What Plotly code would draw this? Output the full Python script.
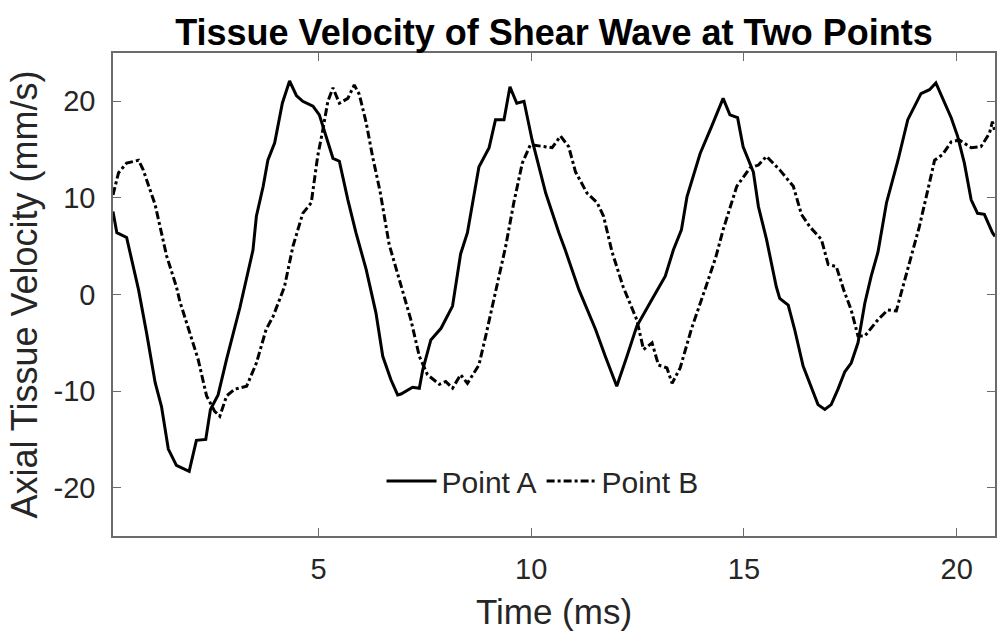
import plotly.graph_objects as go

# Point A (solid)
t_a = [0.17, 0.26, 0.49, 0.77, 0.96, 1.16, 1.31, 1.47, 1.66, 1.96, 2.13, 2.35, 2.46, 2.64, 2.84,
       3.15, 3.46, 3.54, 3.70, 3.81, 3.97, 4.15, 4.32, 4.48, 4.63, 4.87, 5.02, 5.18, 5.34, 5.49,
       5.69, 5.88, 6.04, 6.12, 6.35, 6.51, 6.70, 6.86, 6.94, 7.21, 7.37, 7.45, 7.64, 7.88, 8.15,
       8.34, 8.50, 8.77, 9.01, 9.16, 9.36, 9.50, 9.66, 9.83, 10.02, 10.34, 10.65, 10.80, 11.12,
       11.51, 11.74, 12.01, 12.25, 12.48, 12.84, 13.15, 13.34, 13.53, 13.66, 13.97, 14.24, 14.51,
       14.67, 14.85, 14.98, 15.14, 15.22, 15.34, 15.53, 15.76, 15.84, 16.04, 16.19, 16.39, 16.59,
       16.74, 16.90, 17.05, 17.21, 17.37, 17.52, 17.68, 17.84, 17.99, 18.15, 18.35, 18.62, 18.85,
       19.16, 19.36, 19.51, 19.71, 19.87, 20.02, 20.18, 20.34, 20.49, 20.65, 20.84, 20.90]
v_a = [8.6, 6.4, 5.9, 0.5, -4.0, -9.1, -11.6, -16.0, -17.7, -18.3, -15.1, -15.0, -11.9, -10.4, -6.7,
       -1.4, 4.6, 8.1, 11.2, 13.9, 15.7, 19.8, 22.1, 20.6, 20.0, 19.5, 18.6, 16.4, 14.1, 13.8,
       9.8, 6.4, 3.9, 2.6, -1.9, -6.4, -8.8, -10.4, -10.3, -9.6, -9.7, -7.8, -4.7, -3.5, -1.2,
       4.2, 6.4, 13.2, 15.2, 18.1, 18.1, 21.5, 19.8, 20.0, 16.0, 10.5, 6.4, 4.6, 0.5,
       -3.6, -6.4, -9.5, -6.4, -3.3, -0.5, 1.9, 4.6, 6.7, 10.1, 14.6, 17.4, 20.3,
       18.6, 18.3, 15.3, 13.6, 12.7, 9.1, 5.7, 0.8, -0.4, -1.1, -3.6, -7.4, -9.8,
       -11.4, -11.9, -11.4, -9.8, -8.0, -7.1, -5.0, -0.9, 1.9, 4.4, 9.5, 13.9, 18.1,
       20.8, 21.2, 21.9, 19.8, 18.3, 16.4, 13.6, 9.8, 8.4, 8.3, 6.4, 6.0]

# Point B (dash-dot)
t_b = [0.17, 0.30, 0.49, 0.77, 0.88, 1.16, 1.43, 1.66, 1.74, 1.94, 2.17, 2.37, 2.56, 2.68, 2.84,
       3.03, 3.31, 3.54, 3.77, 3.93, 4.20, 4.40, 4.63, 4.83, 4.98, 5.10, 5.22, 5.34, 5.49, 5.69,
       5.84, 5.96, 6.12, 6.27, 6.45, 6.66, 6.95, 7.17, 7.37, 7.56, 7.84, 7.99, 8.15, 8.34, 8.50,
       8.77, 8.93, 9.12, 9.40, 9.59, 9.79, 9.98, 10.26, 10.49, 10.69, 10.88, 11.04, 11.31, 11.55,
       11.70, 11.90, 12.16, 12.48, 12.64, 12.84, 12.99, 13.19, 13.31, 13.50, 13.77, 14.09, 14.34,
       14.51, 14.83, 15.14, 15.34, 15.53, 15.84, 16.16, 16.35, 16.55, 16.82, 16.98, 17.17, 17.35,
       17.52, 17.68, 17.84, 18.15, 18.38, 18.58, 18.73, 18.95, 19.12, 19.32, 19.48, 19.67, 19.87,
       20.06, 20.34, 20.57, 20.77, 20.84, 20.90]
v_b = [10.3, 12.6, 13.6, 13.9, 12.9, 9.3, 4.0, 0.8, -0.7, -3.6, -6.7, -10.5, -12.1, -12.6, -10.5,
       -9.8, -9.5, -7.1, -3.6, -2.3, 0.8, 5.0, 8.4, 9.5, 14.3, 17.0, 20.0, 21.4, 19.8, 20.3,
       21.7, 20.7, 17.8, 14.3, 10.6, 5.2, 0.6, -2.6, -6.4, -8.3, -9.3, -9.0, -9.7, -8.3, -9.2,
       -7.3, -4.3, -0.5, 5.0, 9.5, 13.6, 15.5, 15.3, 15.2, 16.4, 15.3, 12.7, 10.5, 9.5,
       8.1, 4.4, 0.8, -2.6, -5.7, -5.0, -7.3, -7.6, -9.2, -7.6, -3.5, 0.6, 3.9,
       6.7, 11.2, 13.1, 13.4, 14.3, 12.9, 11.2, 8.3, 7.0, 5.7, 3.1, 2.9, 0.4,
       -1.6, -4.3, -4.3, -2.6, -1.6, -1.7, 0.7, 4.3, 7.0, 10.8, 13.9, 14.5, 15.8,
       16.0, 15.2, 15.3, 16.7, 17.9, 16.8]

x_ticks = [5, 10, 15, 20]
y_ticks = [-20, -10, 0, 10, 20]

FONT = "Liberation Sans, Arial, Helvetica, sans-serif"
AXC = "#6b6b6b"
TXT = "#262626"

fig = go.Figure()
fig.add_trace(go.Scatter(x=t_a, y=v_a, mode="lines", name="Point A",
                         line=dict(color="black", width=3, dash="solid")))
fig.add_trace(go.Scatter(x=t_b, y=v_b, mode="lines", name="Point B",
                         line=dict(color="black", width=3, dash="8px,3px,3px,3px")))

fig.update_layout(
    width=997, height=636,
    margin=dict(l=113, r=0, t=53, b=100),
    paper_bgcolor="white", plot_bgcolor="white",
    font=dict(family=FONT, color=TXT, size=29),
    title=dict(text="<b>Tissue Velocity of Shear Wave at Two Points</b>",
               font=dict(family=FONT, size=36, color="black"),
               x=0.5, xref="paper", xanchor="center",
               y=1 - 45 / 636, yref="container", yanchor="bottom"),
    showlegend=True,
    legend=dict(orientation="h", x=0.487, xanchor="center", y=0.114, yanchor="middle",
                bgcolor="rgba(0,0,0,0)", borderwidth=0,
                font=dict(family=FONT, size=30, color=TXT),
                itemwidth=50, tracegroupgap=0),
)
fig.update_xaxes(range=[0.17, 20.9], tickvals=x_ticks, ticktext=[str(v) for v in x_ticks],
                 ticks="inside", ticklen=8, tickcolor=AXC, tickwidth=1,
                 showline=True, linecolor=AXC, linewidth=1.5, mirror="ticks",
                 showgrid=False, zeroline=False,
                 tickfont=dict(family=FONT, size=29, color=TXT),
                 ticklabelstandoff=6,
                 title=dict(text="Time (ms)", font=dict(family=FONT, size=35, color=TXT), standoff=16))
fig.update_yaxes(range=[-25, 25], tickvals=y_ticks, ticktext=[str(v) for v in y_ticks],
                 ticks="inside", ticklen=8, tickcolor=AXC, tickwidth=1,
                 showline=True, linecolor=AXC, linewidth=1.5, mirror="ticks",
                 showgrid=False, zeroline=False,
                 tickfont=dict(family=FONT, size=29, color=TXT),
                 ticklabelstandoff=10,
                 title=dict(text="Axial Tissue Velocity (mm/s)", font=dict(family=FONT, size=36, color=TXT), standoff=5))

fig.write_html("out.html")
